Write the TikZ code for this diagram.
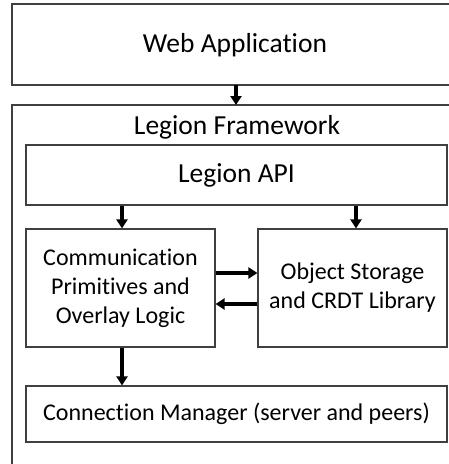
\documentclass[tikz,border=0pt]{standalone}
\usepackage{fontspec}
\setmainfont{Carlito}[Ligatures={NoCommon}]
\usetikzlibrary{arrows.meta}
\begin{document}
\begin{tikzpicture}[x=1pt,y=-1pt,
  box/.style={draw=black!75,line width=1.2pt,inner sep=0pt},
  big/.style={font=\fontsize{27.5}{32}\selectfont},
  small/.style={font=\fontsize{24}{29}\selectfont,align=center},
  arr/.style={line width=3.6pt,-{Triangle[width=11pt,length=9pt]}}]
\useasboundingbox (0,0) rectangle (449,464);
% outer boxes (cut off at right/bottom edge)
\draw[black!75,line width=1.2pt] (460,4) -- (12,4) -- (12,85) -- (460,85);
\draw[black!75,line width=1.2pt] (460,105) -- (12,105) -- (12,470);
\node[big] (web) at (235,45) {Web Application};
\coordinate (webb) at (236,85);
\coordinate (lft) at (236,105);
\node[big] (lf) at (237,127) {Legion Framework};
\node[box,big,minimum width=421pt,minimum height=60pt] (api) at (236.5,175) {Legion API};
\node[box,small,minimum width=189pt,minimum height=118pt] (comm) at (120.5,288) {Communication\\Primitives and\\Overlay Logic};
\node[box,small,minimum width=189pt,minimum height=118pt] (obj) at (352.5,288) {Object Storage\\and CRDT Library};
\node[box,small,minimum width=421pt,minimum height=56pt] (conn) at (236.5,414) {Connection Manager (server and peers)};
\draw[arr] (webb) -- (lft);
\draw[arr] (api.south -| 122,0) -- (comm.north -| 122,0);
\draw[arr] (api.south -| 356,0) -- (obj.north -| 356,0);
\draw[arr] (comm.east |- 0,273) -- (obj.west |- 0,273);
\draw[arr] (obj.west |- 0,304) -- (comm.east |- 0,304);
\draw[arr] (comm.south -| 122,0) -- (conn.north -| 122,0);
\end{tikzpicture}
\end{document}
